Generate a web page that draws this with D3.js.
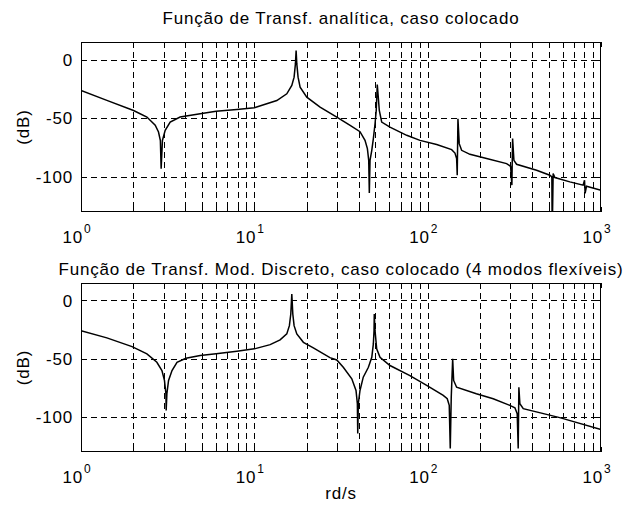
<!DOCTYPE html>
<meta charset="utf-8">
<style>
body { margin: 0; background: #fff; }
text { font-family: "Liberation Sans", Arial, sans-serif; fill: #000; letter-spacing: 0.8px; }
</style>
<script src="https://d3js.org/d3.v7.min.js"></script>
<svg width="630" height="505"></svg>
<script>
// frequency (rd/s) and magnitude (dB)
var topW = [1, 1.41, 2.01, 2.4, 2.68, 2.8, 2.87, 2.9, 2.95, 3.06, 3.27, 3.73, 4.87, 6.02, 7.93, 10,
  13.48, 15.39, 16.45, 16.96, 17.26, 17.42, 17.58, 17.88, 18.37, 20.07, 23.95, 29.9, 35.7, 40.7,
  43.5, 44.9, 45.7, 46.07, 46.5, 47.6, 48.6, 49.7, 50.5, 51.2, 51.9, 52.6, 54.3, 60.6, 75.7, 90.3,
  112.7, 137.5, 143.7, 146.9, 148.1, 149.5, 152.1, 157, 175.3, 218.8, 285.3, 300.9, 306.1, 309,
  314.5, 325.8, 424.9, 507, 520.6, 523, 529.6, 542, 661, 788.6, 803.5, 809.7, 825, 1000];
var topDb = [-26.4, -34.8, -43.4, -49, -56, -61.8, -69, -93, -69, -60.4, -53.3, -49, -46.2, -44, -42.5, -41,
  -34.9, -29.2, -22.1, -15, -3.7, 7.7, -3.7, -15, -23.5, -32, -40.5, -49, -56.1, -61.5,
  -68.9, -75.9, -85.9, -113.7, -85.9, -77.4, -67.4, -54.7, -43.4, -21.3, -32.1, -43.4, -53.3, -57.6, -64.6, -68.9,
  -72.5, -76.8, -79.7, -84.4, -98.6, -50.4, -71.7, -77.4, -80.8, -84.4, -88.7, -91, -107.1, -67.4,
  -85.9, -89.3, -94.4, -98.6, -100.1, -150, -97.2, -100.6, -104.3, -107.1, -102.9, -114.2, -108, -111.4];

var botW = [1, 1.41, 1.97, 2.4, 2.74, 2.93, 3.03, 3.09, 3.1, 3.13, 3.2, 3.35, 3.58, 4.03, 4.87, 6.02, 7.93, 10,
  12.34, 14.08, 15.39, 15.93, 16.23, 16.45, 16.67, 16.96, 17.58, 19.19, 21.9, 27.3, 29.9, 32.6, 36.5,
  38.6, 39.3, 39.5, 39.8, 40.7, 42.5, 45.5, 47.6, 48.6, 49.04, 49.2, 49.7, 50.8, 53.1, 60.6, 79,
  98.7, 123, 129.7, 133.2, 135, 136.8, 139.4, 141.2, 146.9, 191, 238.8, 298, 318.7, 328.5, 332.9,
  335.9, 340.4, 356, 578, 1000];
var botDb = [-25.9, -32.1, -39.6, -45.8, -53, -60.1, -68.6, -80, -94.3, -80, -68.6, -60.1, -53, -49.6, -47.3, -45.8, -43.6, -41.5,
  -37.9, -33.8, -28.7, -21.6, -11.6, 5.5, -11.6, -21.6, -28.7, -35.9, -40.7, -49, -51, -57.3, -67.2,
  -77.2, -88.6, -114.2, -88.6, -77.2, -65.8, -57.3, -48.7, -37.3, -25.9, -11.6, -25.9, -41.5, -48.7, -55.8, -64.5,
  -72.9, -81.5, -84.3, -90, -127, -82.9, -50.1, -68.6, -74.4, -80, -84.3, -90, -92, -97.1, -127,
  -74.4, -88.6, -92.8, -100.5, -110.8];

var xTicks = [1, 10, 100, 1000];
var xTickExp = ["0", "1", "2", "3"];
var yTicks = [0, -50, -100];
var titles = ["Função de Transf. analítica, caso colocado",
  "Função de Transf. Mod. Discreto, caso colocado (4 modos flexíveis)"];

var svg = d3.select("svg");
var x = d3.scaleLog().domain([1, 1000]).range([81, 601]);

var panels = [
  { top: 42, bottom: 212, w: topW, db: topDb, title: titles[0], titleY: 24 },
  { top: 283, bottom: 452, w: botW, db: botDb, title: titles[1], titleY: 275 }
];

panels.forEach(function(p, i) {
  var y = d3.scaleLinear().domain([-130, 15]).range([p.bottom, p.top]);
  var g = svg.append("g");

  g.append("clipPath").attr("id", "clip" + i)
    .append("rect").attr("x", 81).attr("y", p.top).attr("width", 520).attr("height", p.bottom - p.top);

  // grid
  var gx = x.ticks().filter(function(t) { return t > 1 && t < 1000; });
  g.selectAll(".vg").data(gx).enter().append("line")
    .attr("x1", function(d) { return Math.round(x(d)) + 0.5; })
    .attr("x2", function(d) { return Math.round(x(d)) + 0.5; })
    .attr("y1", p.top).attr("y2", p.bottom)
    .attr("stroke", "#000").attr("stroke-dasharray", "6,4");
  g.selectAll(".hg").data(yTicks).enter().append("line")
    .attr("y1", function(d) { return Math.round(y(d)) + 0.5; })
    .attr("y2", function(d) { return Math.round(y(d)) + 0.5; })
    .attr("x1", 81).attr("x2", 601)
    .attr("stroke", "#000").attr("stroke-dasharray", "6,4");

  // ticks on the box
  x.ticks().forEach(function(t) {
    var xp = Math.round(x(t)) + 0.5;
    g.append("line").attr("x1", xp).attr("x2", xp).attr("y1", p.top).attr("y2", p.top + 5).attr("stroke", "#000");
    g.append("line").attr("x1", xp).attr("x2", xp).attr("y1", p.bottom).attr("y2", p.bottom - 5).attr("stroke", "#000");
  });
  yTicks.forEach(function(t) {
    var yp = Math.round(y(t)) + 0.5;
    g.append("line").attr("x1", 81).attr("x2", 86).attr("y1", yp).attr("y2", yp).attr("stroke", "#000");
    g.append("line").attr("x1", 601).attr("x2", 596).attr("y1", yp).attr("y2", yp).attr("stroke", "#000");
  });

  // curve
  var pts = p.w.map(function(w, k) { return [w, p.db[k]]; });
  g.append("path").datum(pts)
    .attr("clip-path", "url(#clip" + i + ")")
    .attr("fill", "none").attr("stroke", "#000").attr("stroke-width", 1.5)
    .attr("d", d3.line().x(function(d) { return x(d[0]); }).y(function(d) { return y(d[1]); }));

  g.append("rect").attr("x", 81.5).attr("y", p.top + 0.5).attr("width", 519).attr("height", p.bottom - p.top - 1)
    .attr("fill", "none").attr("stroke", "#000");

  // labels
  g.selectAll(".yl").data(yTicks).enter().append("text")
    .attr("x", 73).attr("y", function(d) { return y(d); }).attr("dy", "0.36em")
    .attr("text-anchor", "end").style("font-size", "17px")
    .text(function(d) { return d; });

  xTicks.forEach(function(t, k) {
    var xp = x(t);
    g.append("text").attr("x", xp + 2).attr("y", p.bottom + 31)
      .attr("text-anchor", "end").style("font-size", "17px").text("10");
    g.append("text").attr("x", xp + 3).attr("y", p.bottom + 21)
      .style("font-size", "12px").text(xTickExp[k]);
  });

  g.append("text").attr("transform", "translate(29," + ((p.top + p.bottom) / 2) + ") rotate(-90)")
    .attr("text-anchor", "middle").style("font-size", "17px").text("(dB)");

  g.append("text").attr("x", 341).attr("y", p.titleY)
    .attr("text-anchor", "middle").style("font-size", "17px").text(p.title);
});

svg.append("text").attr("x", 341).attr("y", 499)
  .attr("text-anchor", "middle").style("font-size", "17px").text("rd/s");
</script>
